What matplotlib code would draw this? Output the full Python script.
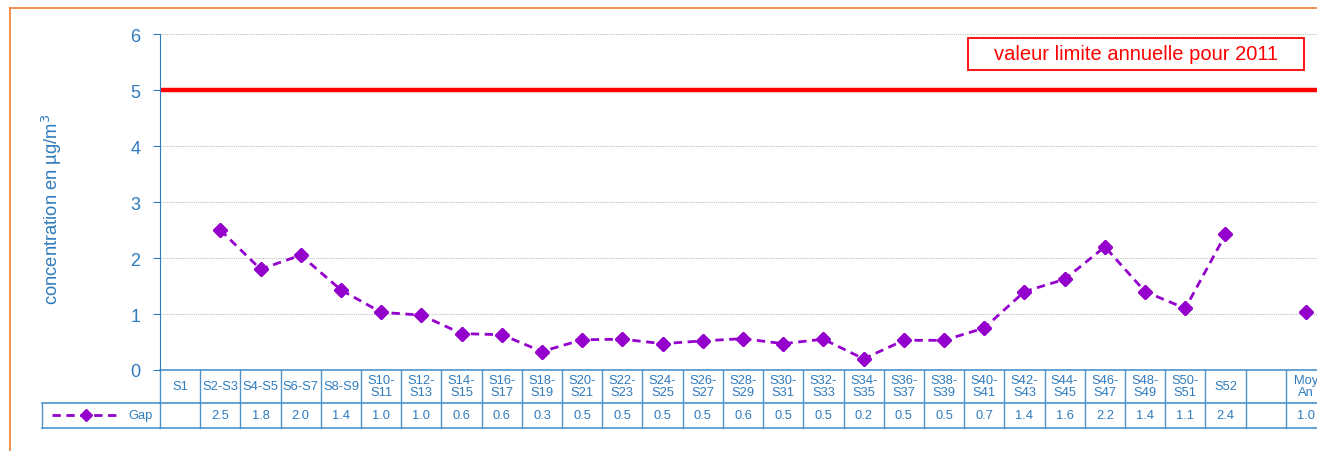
import numpy as np
import matplotlib.pyplot as plt
from matplotlib.lines import Line2D
from matplotlib.patches import Rectangle

plt.rcParams['font.family'] = ['Liberation Sans', 'DejaVu Sans']

# --- data ---
periods = ["S1", "S2-S3", "S4-S5", "S6-S7", "S8-S9", "S10-\nS11", "S12-\nS13",
           "S14-\nS15", "S16-\nS17", "S18-\nS19", "S20-\nS21", "S22-\nS23",
           "S24-\nS25", "S26-\nS27", "S28-\nS29", "S30-\nS31", "S32-\nS33",
           "S34-\nS35", "S36-\nS37", "S38-\nS39", "S40-\nS41", "S42-\nS43",
           "S44-\nS45", "S46-\nS47", "S48-\nS49", "S50-\nS51", "S52", "",
           "Moy\nAn"]
gap = [np.nan, 2.50, 1.80, 2.05, 1.43, 1.03, 0.98, 0.65, 0.63, 0.33, 0.54,
       0.55, 0.47, 0.52, 0.56, 0.47, 0.55, 0.20, 0.53, 0.53, 0.75, 1.40,
       1.62, 2.20, 1.40, 1.10, 2.42, np.nan, 1.04]
gap_labels = ["", "2.5", "1.8", "2.0", "1.4", "1.0", "1.0", "0.6", "0.6", "0.3",
              "0.5", "0.5", "0.5", "0.5", "0.6", "0.5", "0.5", "0.2", "0.5",
              "0.5", "0.7", "1.4", "1.6", "2.2", "1.4", "1.1", "2.4", "", "1.0"]
limit_value = 5
limit_label = "valeur limite annuelle pour 2011"

blue = '#2E7BBE'
grid_blue = '#4C93CC'
purple = '#9400CC'

W, H = 1317, 452
AX_W, AX_H = 1166, 336
fig = plt.figure(figsize=(W / 100, H / 100), dpi=100)
ax = fig.add_axes([160 / W, (H - 371) / H, AX_W / W, AX_H / H])

x = np.arange(len(periods))
ax.set_xlim(-0.5, len(periods) - 0.5)
ax.set_ylim(0, 6)

# orange frame of the chart area
fig.add_artist(Line2D([10 / W, 10 / W], [0, (H - 9) / H], color='#ED7D31', lw=1.2))
fig.add_artist(Line2D([10 / W, 1], [(H - 9) / H, (H - 9) / H], color='#ED7D31', lw=1.2))

# grid + limit line
for yv in range(1, 7):
    ax.axhline(yv, color='#BFBFBF', lw=0.8, ls=(0, (1, 1)), zorder=1)
ax.axhline(limit_value, color='#FF0000', lw=3.2, zorder=2)

ax.plot(x, gap, color=purple, lw=2.0, ls=(0, (3, 2)), marker='D',
        markersize=7, zorder=3)
ax.plot(x, gap, ls='none', color=purple, marker='D', markersize=7, zorder=4)

# limit label in a red box
bx0, bx1, by0, by1 = 968, 1304, 39, 71
ax.add_patch(Rectangle(((bx0 - 160) / AX_W, (371 - by1) / AX_H),
                       (bx1 - bx0) / AX_W, (by1 - by0) / AX_H,
                       transform=ax.transAxes, fc='white', ec='#FF0000', lw=1.3,
                       zorder=5))
ax.text(((bx0 + bx1) / 2 - 160) / AX_W, (371 - (by0 + by1) / 2) / AX_H, limit_label,
        transform=ax.transAxes, color='#FF0000', fontsize=14.5, ha='center',
        va='center', zorder=6)

# axes styling
for side in ['top', 'right', 'bottom']:
    ax.spines[side].set_visible(False)
ax.spines['left'].set_color(blue)
ax.set_xticks([])
ax.set_yticks(range(0, 7))
ax.tick_params(axis='y', colors=blue, labelsize=13, length=5, pad=9)
ax.set_ylabel("concentration en µg/m$^3$", color=blue, fontsize=13.2)
ax.yaxis.set_label_coords((64 - 160) / AX_W, 0.48)

# --- data table below the axes ---
tr = ax.get_xaxis_transform()
h1 = -33 / AX_H
h2 = -58 / AX_H
edges = np.arange(len(periods) + 1) - 0.5
for hy in [0, h1, h2]:
    ax.plot([edges[0], edges[-1]], [hy, hy], transform=tr, color=grid_blue,
            lw=1.2, clip_on=False)
for e in edges:
    ax.plot([e, e], [0, h2], transform=tr, color=grid_blue, lw=1.0, clip_on=False)
for xi, lab, val in zip(x, periods, gap_labels):
    ax.text(xi, h1 / 2, lab, transform=tr, ha='center', va='center',
            color=blue, fontsize=9.3, linespacing=1.0, clip_on=False)
    ax.text(xi, (h1 + h2) / 2, val, transform=tr, ha='center', va='center',
            color=blue, fontsize=9.3, clip_on=False)

# legend cell
fx0 = 42 / W
fx1 = 160 / W
fy_top = (H - 404) / H
fy_bot = (H - 429) / H
fig.add_artist(Line2D([fx0, fx1], [fy_top, fy_top], color=grid_blue, lw=1.2))
fig.add_artist(Line2D([fx0, fx1], [fy_bot, fy_bot], color=grid_blue, lw=1.2))
fig.add_artist(Line2D([fx0, fx0], [fy_bot, fy_top], color=grid_blue, lw=1.0))
fig.add_artist(Line2D([52 / W, 120 / W], [(H - 416) / H] * 2, color=purple, lw=2.0,
                      ls=(0, (3, 2))))
fig.add_artist(Line2D([86 / W], [(H - 416) / H], color=purple, marker='D',
                      markersize=6, ls='none'))
fig.text(128 / W, (H - 416.5) / H, "Gap", color=blue, fontsize=9.3, va='center')

fig.savefig("out.png", dpi=100)
